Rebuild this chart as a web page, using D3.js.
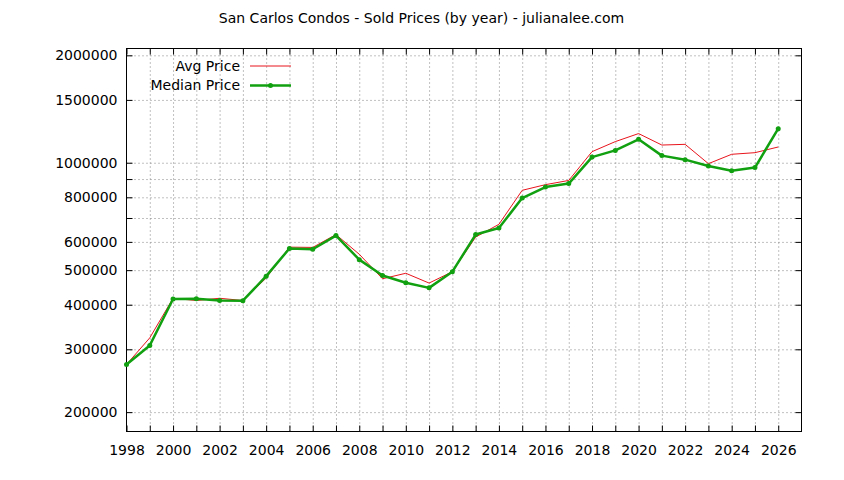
<!DOCTYPE html>
<html lang="en">
<head>
    <meta charset="UTF-8">
    <title>San Carlos Condos - Sold Prices (by year)</title>
    <script src="https://d3js.org/d3.v7.min.js"></script>
    <style>
        body { margin: 0; background: #fff; }
        text { font-family: "DejaVu Sans", sans-serif; }
    </style>
</head>
<body>
    <div id="chart"></div>
    <script>
        const ancho = 844;
        const alto = 480;

        // Datos
        const years = [1998, 1999, 2000, 2001, 2002, 2003, 2004, 2005, 2006, 2007,
                       2008, 2009, 2010, 2011, 2012, 2013, 2014, 2015, 2016, 2017,
                       2018, 2019, 2020, 2021, 2022, 2023, 2024, 2025, 2026];
        const avgPrice = [272000, 323000, 417000, 411000, 417000, 411000, 475000, 580000, 579000, 629000,
                          554000, 473000, 490000, 460000, 495000, 619000, 672000, 837000, 868000, 892000,
                          1074000, 1146000, 1207000, 1121000, 1126000, 994000, 1056000, 1067000, 1107000];
        const medianPrice = [272000, 307600, 415000, 416000, 411000, 410600, 481000, 575000, 572000, 625000,
                             535000, 483000, 461000, 446000, 495000, 629000, 656000, 796000, 855000, 874000,
                             1037000, 1083000, 1163000, 1047000, 1020000, 979000, 950000, 969000, 1246000];
        const yTicks = [200000, 300000, 400000, 500000, 600000, 700000, 800000, 900000, 1000000, 1500000, 2000000];
        const yLabeled = [200000, 300000, 400000, 500000, 600000, 800000, 1000000, 1500000, 2000000];
        const xLabeled = [1998, 2000, 2002, 2004, 2006, 2008, 2010, 2012, 2014, 2016, 2018, 2020, 2022, 2024, 2026];
        const seriesNames = ["Avg Price", "Median Price"];

        const izq = 126.5, der = 801.5, arriba = 48.5, abajo = 431.5;
        const rojo = "#e8141c";
        const verde = "#10a010";

        const svg = d3.select("#chart")
            .append("svg")
            .attr("width", ancho)
            .attr("height", alto);

        const x = d3.scaleLinear().domain([1998, 2027]).range([izq, der]);
        const y = d3.scaleLog().domain([176500, 2090000]).range([abajo, arriba]);

        // Rejilla punteada
        svg.append("g")
            .attr("transform", `translate(0,${abajo})`)
            .call(d3.axisBottom(x).tickValues(years.slice(1)).tickSize(-(abajo - arriba)).tickFormat(""))
            .call(g => g.select(".domain").remove())
            .selectAll("line")
            .attr("stroke", "#808080")
            .attr("stroke-dasharray", "1,3");

        svg.append("g")
            .attr("transform", `translate(${izq},0)`)
            .call(d3.axisLeft(y).tickValues(yTicks).tickSize(-(der - izq)).tickFormat(""))
            .call(g => g.select(".domain").remove())
            .selectAll("line")
            .attr("stroke", "#808080")
            .attr("stroke-dasharray", "1,3");

        // Ejes con marcas hacia dentro
        const ejeX = svg.append("g")
            .attr("transform", `translate(0,${abajo})`)
            .call(d3.axisBottom(x).tickValues(years).tickSizeInner(-6).tickSizeOuter(0)
                .tickPadding(14)
                .tickFormat(d => xLabeled.includes(d) ? d : ""));
        ejeX.select(".domain").remove();

        svg.append("g")
            .attr("transform", `translate(0,${arriba})`)
            .call(d3.axisTop(x).tickValues(years).tickSizeInner(-6).tickSizeOuter(0).tickFormat(""))
            .select(".domain").remove();

        const ejeY = svg.append("g")
            .attr("transform", `translate(${izq},0)`)
            .call(d3.axisLeft(y).tickValues(yTicks).tickSizeInner(-6).tickSizeOuter(0)
                .tickPadding(9)
                .tickFormat(d => yLabeled.includes(d) ? d : ""));
        ejeY.select(".domain").remove();

        svg.append("g")
            .attr("transform", `translate(${der},0)`)
            .call(d3.axisRight(y).tickValues(yTicks).tickSizeInner(-6).tickSizeOuter(0).tickFormat(""))
            .select(".domain").remove();

        svg.selectAll(".tick text")
            .attr("font-size", 14)
            .attr("fill", "#000");
        svg.selectAll(".tick line").filter(function () {
            return !this.getAttribute("stroke-dasharray");
        }).attr("stroke", "#000");

        // Borde del área de trazado
        svg.append("rect")
            .attr("x", izq)
            .attr("y", arriba)
            .attr("width", der - izq)
            .attr("height", abajo - arriba)
            .attr("fill", "none")
            .attr("stroke", "#000")
            .attr("stroke-width", 1);

        // Líneas
        const linea = valores => d3.line()
            .x((d, i) => x(years[i]))
            .y(d => y(d))(valores);

        svg.append("path")
            .attr("d", linea(avgPrice))
            .attr("fill", "none")
            .attr("stroke", rojo)
            .attr("stroke-width", 1);

        svg.append("path")
            .attr("d", linea(medianPrice))
            .attr("fill", "none")
            .attr("stroke", verde)
            .attr("stroke-width", 2.5)
            .attr("stroke-linejoin", "round");

        svg.selectAll(".punto")
            .data(medianPrice)
            .enter()
            .append("circle")
            .attr("class", "punto")
            .attr("cx", (d, i) => x(years[i]))
            .attr("cy", d => y(d))
            .attr("r", 2.5)
            .attr("fill", verde);

        // Leyenda
        const leyenda = svg.append("g");
        const colores = [rojo, verde];
        seriesNames.forEach((nombre, i) => {
            const ly = 66 + i * 19.5;
            leyenda.append("text")
                .attr("x", 240)
                .attr("y", ly)
                .attr("dy", "0.35em")
                .attr("text-anchor", "end")
                .attr("font-size", 14)
                .text(nombre);
            leyenda.append("line")
                .attr("x1", 250)
                .attr("x2", 291)
                .attr("y1", ly)
                .attr("y2", ly)
                .attr("stroke", colores[i])
                .attr("stroke-width", i === 0 ? 1 : 2.5);
            if (i === 1) {
                leyenda.append("circle")
                    .attr("cx", 270.5)
                    .attr("cy", ly)
                    .attr("r", 2.5)
                    .attr("fill", verde);
            }
        });

        // Título
        svg.append("text")
            .attr("x", 421.5)
            .attr("y", 18)
            .attr("dy", "0.35em")
            .attr("text-anchor", "middle")
            .attr("font-size", 14)
            .text("San Carlos Condos - Sold Prices (by year) - julianalee.com");
    </script>
</body>
</html>
